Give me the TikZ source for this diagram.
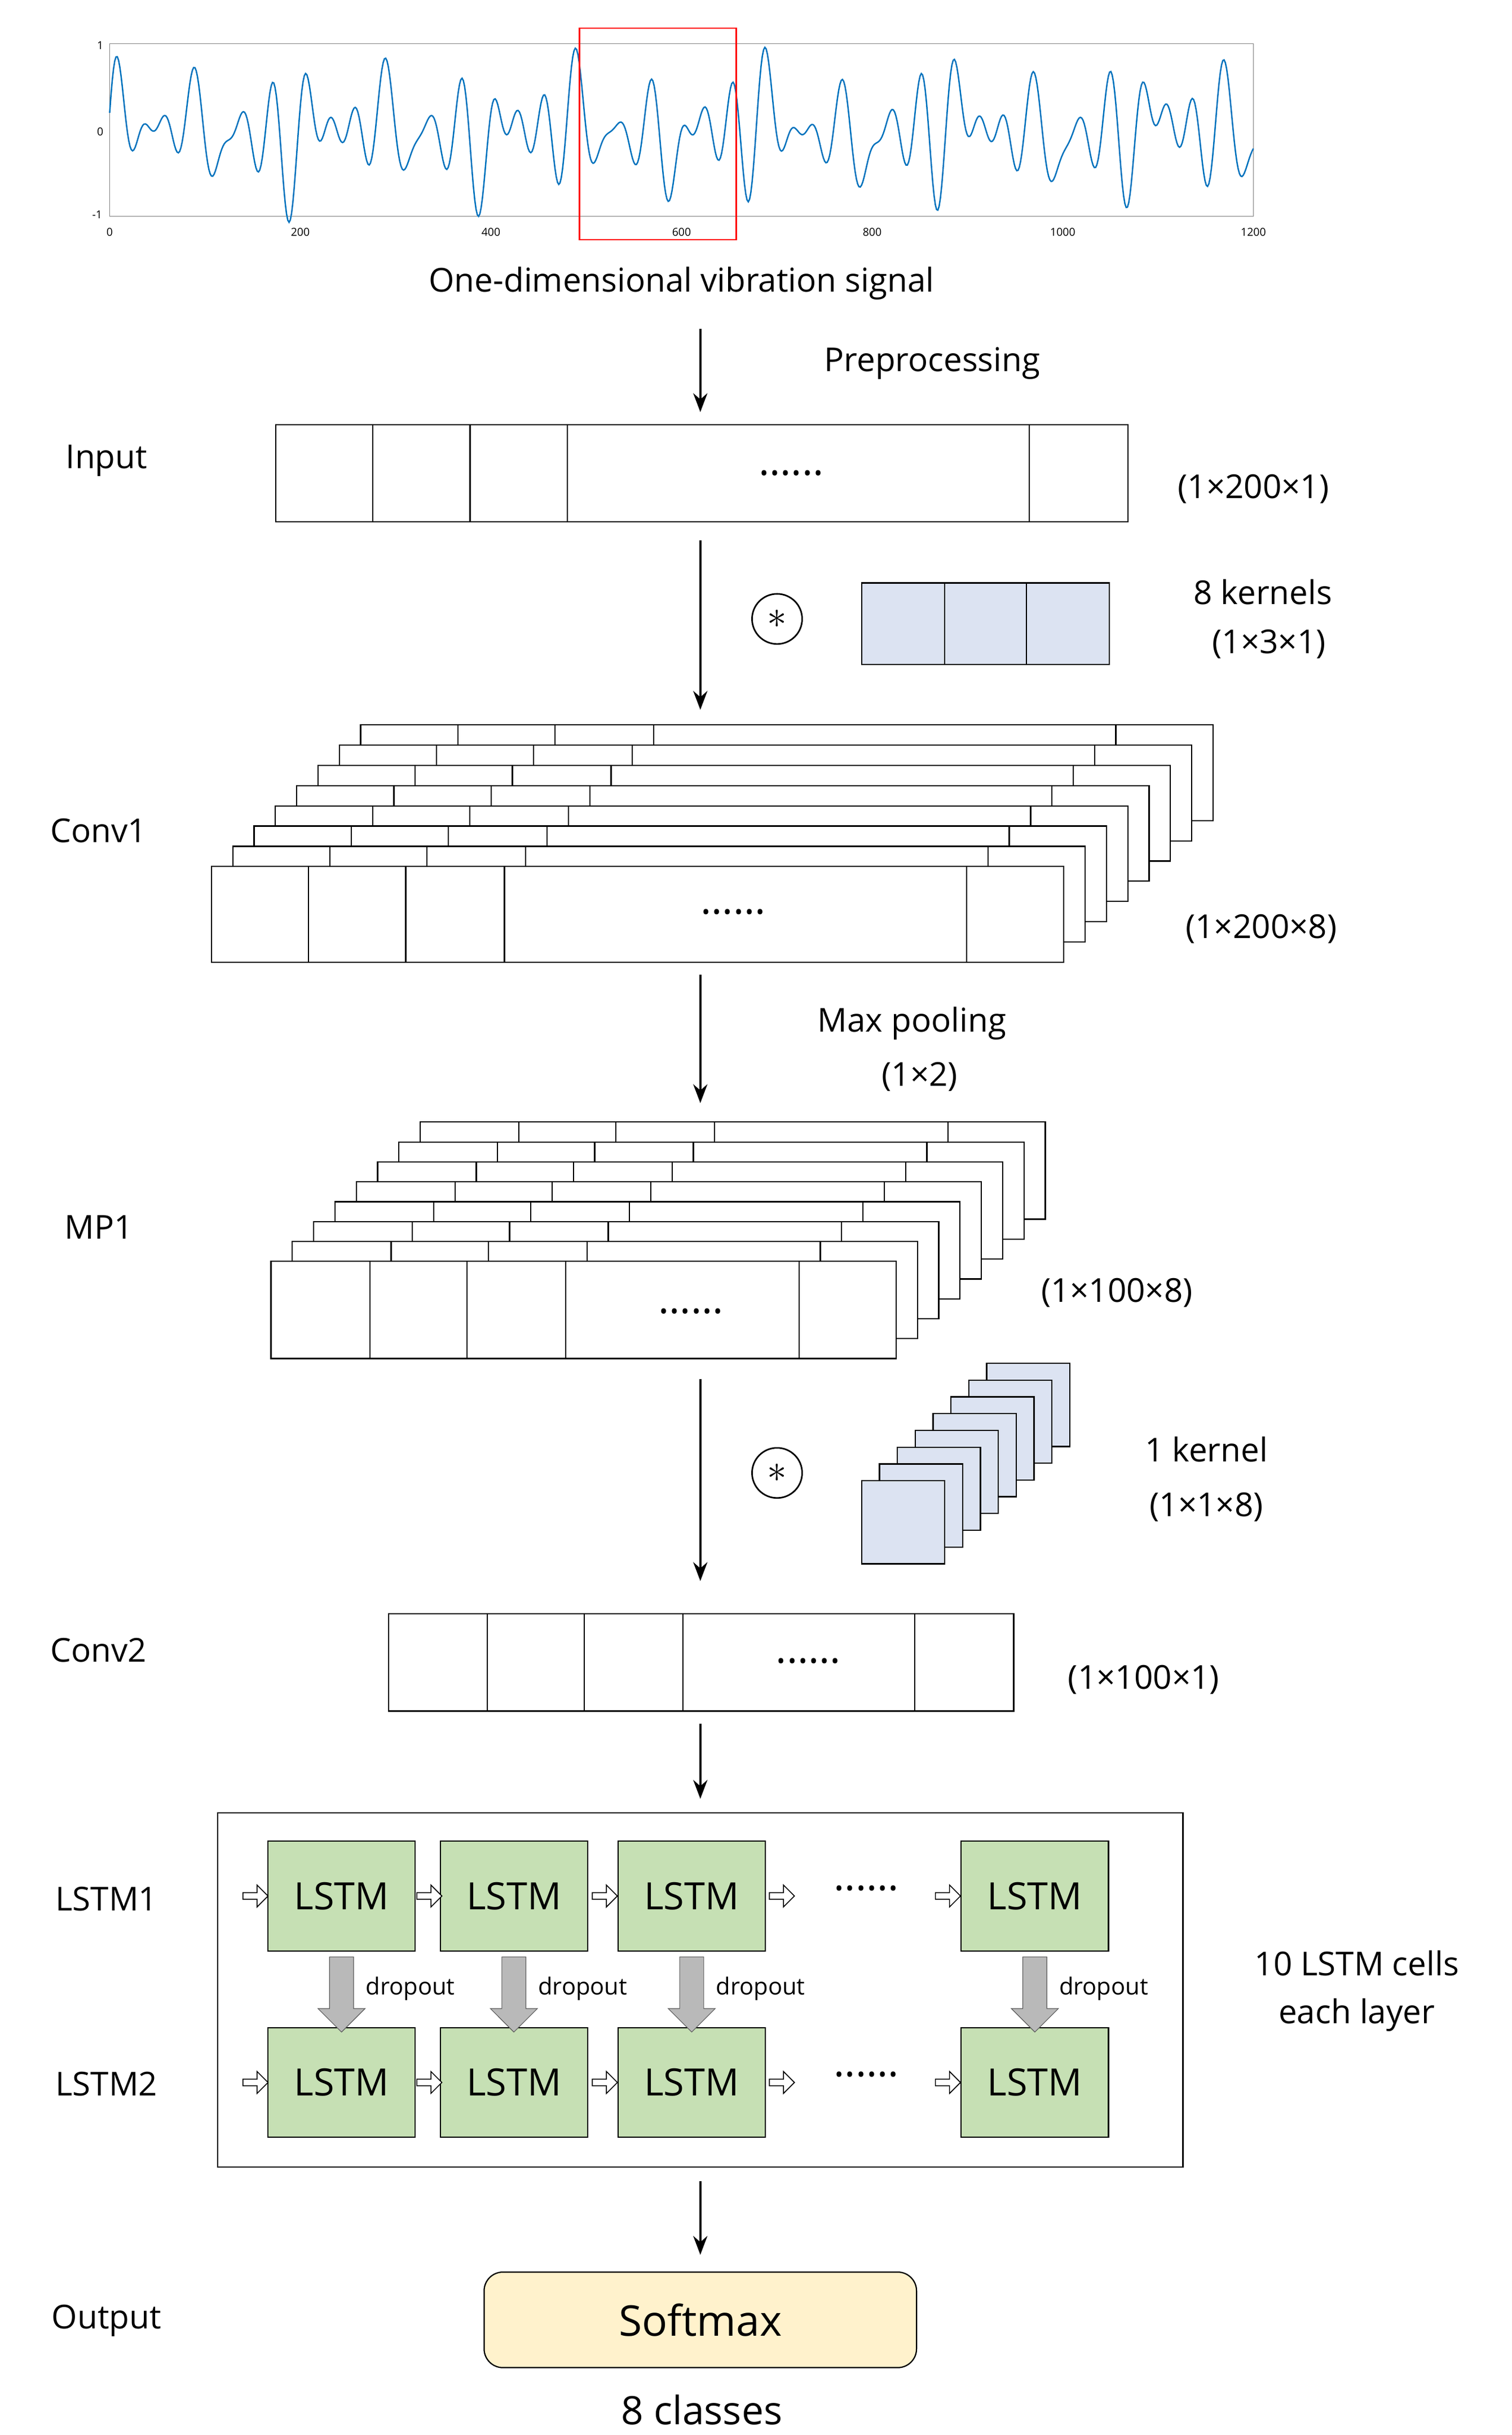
\documentclass[tikz,border=0pt]{standalone}
\usepackage{fontspec}
\setmainfont{Open Sans}
\usetikzlibrary{arrows.meta,shapes.arrows}
\definecolor{kb}{RGB}{220,227,242}
\definecolor{lg}{RGB}{198,224,180}
\definecolor{sy}{RGB}{255,242,204}
\definecolor{sb}{RGB}{0,114,189}
\begin{document}
\begin{tikzpicture}[x=1pt,y=-1pt,
  lab/.style={font=\fontsize{21}{24}\selectfont},
  cell/.style={draw,line width=0.8pt,fill=white},
  arr/.style={line width=1.6pt,-{Stealth[length=12pt,width=9pt]}},
  lstm/.style={draw,line width=0.8pt,fill=lg,minimum width=94pt,minimum height=70pt,font=\fontsize{24}{26}\selectfont,inner sep=0pt},
  ha/.style={single arrow,draw,fill=white,minimum height=16pt,minimum width=14pt,single arrow head extend=3pt,inner sep=1pt,line width=0.6pt},
  ga/.style={single arrow,draw=gray!70!black,fill=gray!55,rotate=-90,minimum height=48pt,minimum width=30pt,single arrow head extend=4pt,inner sep=4pt},
  dl/.style={font=\fontsize{15}{17}\selectfont,anchor=west}]
\useasboundingbox (0,0) rectangle (965,1554);
% plot
\draw[line width=0.5pt,gray] (70,28) rectangle (800,138);
\draw[sb,line width=0.9pt] plot[domain=0:1200,samples=900,variable=\t]
 ({70+\t*0.60833},{84-52*(0.4*sin(\t*9)+0.3*sin(\t*12.7+40)+0.22*sin(\t*5.3+10)+0.15*sin(\t*11.1)+0.12*sin(\t*1.7))});
\foreach \v/\l in {0/0,200/200,400/400,600/600,800/800,1000/1000,1200/1200}
  \node[font=\fontsize{7}{8}\selectfont] (t\v) at ({70+\v*0.60833},148) {\l};
\node[font=\fontsize{7}{8}\selectfont] (y1) at (64,29) {1};
\node[font=\fontsize{7}{8}\selectfont] (y0) at (64,84) {0};
\node[font=\fontsize{7}{8}\selectfont] (ym) at (62,137) {-1};
\draw[red,line width=1pt] (370,18) rectangle (470,153);
\node[lab] (sig) at (435,181) {One-dimensional vibration signal};
% preprocessing
\coordinate (a1) at (447,210); \coordinate (a2) at (447,263);
\draw[arr] (a1) -- (a2);
\node[lab] (pre) at (595,232) {Preprocessing};
% input
\node[lab] (inl) at (68,294) {Input};
\draw[cell] (176,271) rectangle (720,333);
\foreach \d in {238,300,362,657} \draw[line width=0.8pt] (\d,271) -- (\d,333);
\node[font=\fontsize{26}{26}\selectfont] (d1) at (505,302) {......};
\node[lab] (ins) at (800,312) {(1×200×1)};
\coordinate (b1) at (447,345); \coordinate (b2) at (447,453);
\draw[arr] (b1) -- (b2);
\node[draw,circle,line width=1pt,minimum size=32pt,inner sep=0pt,font=\fontsize{26}{26}\selectfont] (ast1) at (496,395) {$\ast$};
\draw[line width=0.8pt,fill=kb] (550,372) rectangle (708,424);
\foreach \d in {603,655} \draw[line width=0.8pt] (\d,372) -- (\d,424);
\node[lab] (k1) at (806,378) {8 kernels};
\node[lab] (k1s) at (810,411) {(1×3×1)};
% conv1
\node[lab] (c1l) at (63,530) {Conv1};
\foreach \i in {7,6,...,0}{
  \begin{scope}[shift={({\i*13.6},{-\i*12.9})}]
  \draw[cell] (135,553) rectangle (679,614);
  \foreach \d in {197,259,322,617} \draw[line width=0.8pt] (\d,553) -- (\d,614);
  \end{scope}}
\node[font=\fontsize{26}{26}\selectfont] (d2) at (468,582) {......};
\node[lab] (c1s) at (805,593) {(1×200×8)};
\coordinate (c1) at (447,622); \coordinate (c2) at (447,704);
\draw[arr] (c1) -- (c2);
\node[lab] (mp) at (582,653) {Max pooling};
\node[lab] (mps) at (587,687) {(1×2)};
% MP1
\node[lab] (m1l) at (63,783) {MP1};
\foreach \i in {7,6,...,0}{
  \begin{scope}[shift={({\i*13.6},{-\i*12.7})}]
  \draw[cell] (173,805) rectangle (572,867);
  \foreach \d in {236,298,361,510} \draw[line width=0.8pt] (\d,805) -- (\d,867);
  \end{scope}}
\node[font=\fontsize{26}{26}\selectfont] (d3) at (441,837) {......};
\node[lab] (m1s) at (713,825) {(1×100×8)};
\coordinate (e1) at (447,880); \coordinate (e2) at (447,1009);
\draw[arr] (e1) -- (e2);
\node[draw,circle,line width=1pt,minimum size=32pt,inner sep=0pt,font=\fontsize{26}{26}\selectfont] (ast2) at (496,940) {$\ast$};
\foreach \i in {7,6,...,0}{
  \draw[line width=0.8pt,fill=kb] ({550+\i*11.4},{945-\i*10.7}) rectangle ++(53,53);}
\node[lab] (k2) at (770,925) {1 kernel};
\node[lab] (k2s) at (770,962) {(1×1×8)};
% conv2
\node[lab] (c2l) at (63,1053) {Conv2};
\draw[cell] (248,1030) rectangle (647,1092);
\foreach \d in {311,373,436,584} \draw[line width=0.8pt] (\d,1030) -- (\d,1092);
\node[font=\fontsize{26}{26}\selectfont] (d4) at (516,1060) {......};
\node[lab] (c2s) at (730,1072) {(1×100×1)};
\coordinate (f1) at (447,1100); \coordinate (f2) at (447,1148);
\draw[arr] (f1) -- (f2);
% LSTM
\draw[line width=0.8pt] (139,1157) rectangle (755,1383);
\node[lab] (l1l) at (68,1212) {LSTM1};
\node[lab] (l2l) at (68,1330) {LSTM2};
\foreach \r/\y in {1/1210,2/1329}{
  \node[lstm] (L\r a) at (218,\y) {LSTM};
  \node[lstm] (L\r b) at (328,\y) {LSTM};
  \node[lstm] (L\r c) at (441.5,\y) {LSTM};
  \node[lstm] (L\r d) at (660.5,\y) {LSTM};
  \node[ha] (h\r a) at (162,\y) {};
  \node[ha] (h\r b) at (273,\y) {};
  \node[ha] (h\r c) at (385,\y) {};
  \node[ha] (h\r d) at (498,\y) {};
  \node[ha] (h\r e) at (604,\y) {};
  \node[font=\fontsize{26}{26}\selectfont] (ld\r) at (553,\y-5) {......};
}
\foreach \c/\x in {a/218,b/328,c/441.5,d/660.5}{
  \node[ga] (g\c) at (\x,1269) {};
  \node[dl] (dr\c) at (\x+12,1269) {dropout};}
\node[lab] (ten) at (866,1253) {10 LSTM cells};
\node[lab] (eal) at (866,1286) {each layer};
\coordinate (s1) at (447,1392); \coordinate (s2) at (447,1439);
\draw[arr] (s1) -- (s2);
\node[lab] (outl) at (68,1481) {Output};
\node[draw,line width=0.8pt,fill=sy,rounded corners=12pt,minimum width=276pt,minimum height=61pt,font=\fontsize{27}{30}\selectfont] (sm) at (447,1480.5) {Softmax};
\node[font=\fontsize{25}{28}\selectfont] (cls) at (448,1538) {8 classes};
\end{tikzpicture}
\end{document}
